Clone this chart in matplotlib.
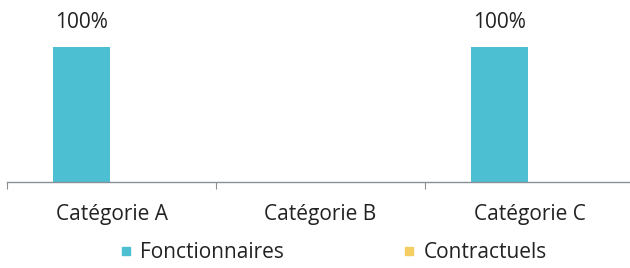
import matplotlib
matplotlib.use("Agg")
import matplotlib.pyplot as plt
from matplotlib.lines import Line2D
import numpy as np

categories = ["Catégorie A", "Catégorie B", "Catégorie C"]
series_names = ["Fonctionnaires", "Contractuels"]
fonctionnaires = [100, 0, 100]
contractuels = [0, 0, 0]
colors = ["#4DBFD3", "#F4CE62"]

plt.rcParams['font.family'] = ['Open Sans', 'DejaVu Sans']

W, H = 630, 268
fig = plt.figure(figsize=(W / 100, H / 100), dpi=100)
x0, x1 = 7, 630
ybase = 182
ax = fig.add_axes([x0 / W, 1 - ybase / H, (x1 - x0) / W, ybase / H])

x = np.arange(len(categories))
bw = 0.273
off = 0.145
for vals, c, sgn in [(fonctionnaires, colors[0], -1), (contractuels, colors[1], 1)]:
    bars = ax.bar(x + sgn * off, vals, width=bw, color=c)
    for b, v in zip(bars, vals):
        if v:
            ax.text(b.get_x() + b.get_width() / 2, v + 10, f"{v}%", ha="center",
                    va="bottom", fontsize=15, color="#222222")

px = 1 / 209
ax.set_xlim(-0.5, -0.5 + (x1 - x0) * px)
ax.set_ylim(0, 100 * ybase / 135.3)
for s in ["top", "right", "left"]:
    ax.spines[s].set_visible(False)
ax.spines["bottom"].set_color("#8a8f96")
ax.spines["bottom"].set_linewidth(1.0)
ax.set_yticks([])
ax.set_xticks([-0.5, 0.5, 1.5])
ax.set_xticklabels([])
ax.tick_params(axis="x", which="major", length=5, color="#8a8f96", direction="out")
ax.set_xticks(x, minor=True)
ax.set_xticklabels(categories, minor=True, fontsize=15, color="#222222")
ax.tick_params(axis="x", which="minor", length=0, pad=15.5)

handles = [Line2D([], [], marker="s", linestyle="none", markersize=6,
                  markerfacecolor=c, markeredgecolor=c) for c in colors]
fig.legend(handles, series_names, loc="center", bbox_to_anchor=(0.527, 1 - 253 / H),
           ncol=2, frameon=False, fontsize=15, handletextpad=0.3,
           columnspacing=5.6, handlelength=0.8, labelcolor="#222222",
           borderaxespad=0, borderpad=0)

fig.savefig("out.png", dpi=100)
